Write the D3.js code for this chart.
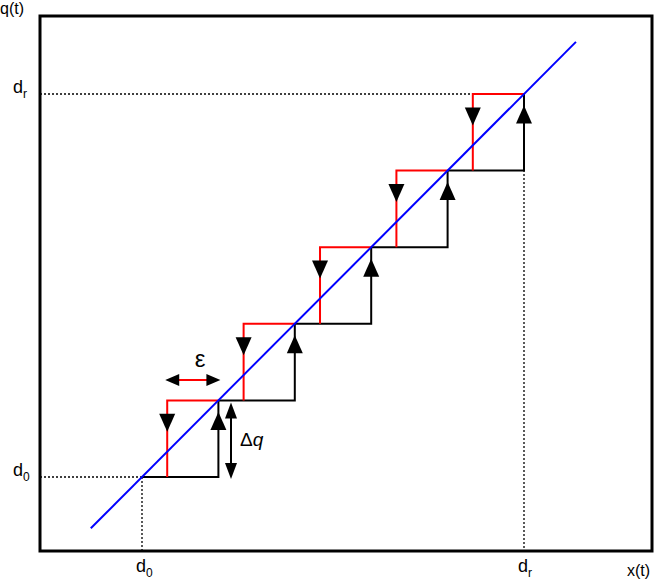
<!DOCTYPE html><html><head><meta charset="utf-8"><script src="https://cdn.jsdelivr.net/npm/d3@7"></script>
<style>body{margin:0;background:#fff}text{font-family:Arial,"Liberation Sans",sans-serif}</style></head><body>
<svg id="c" width="656" height="582"></svg>
<script>
const levels=[0,1,2,3,4,5];
const eps=0.33;
const lineRange=[-0.67,5.68];
const tickLabels=[{v:0,t:"d",s:"0"},{v:5,t:"d",s:"r"}];
const svg=d3.select("#c");
const x=d3.scaleLinear().domain([0,5]).range([142,524]);
const y=d3.scaleLinear().domain([0,5]).range([477,94]);
tickLabels.forEach(d=>{
  svg.append("line").attr("x1",40).attr("x2",x(d.v)).attr("y1",y(d.v)).attr("y2",y(d.v)).attr("stroke","#000").attr("stroke-width",1.3).attr("stroke-dasharray","2,2");
  svg.append("line").attr("x1",x(d.v)).attr("x2",x(d.v)).attr("y1",y(d.v)).attr("y2",551).attr("stroke","#000").attr("stroke-width",1.3).attr("stroke-dasharray","2,2");
  const tl=svg.append("text").attr("x",13).attr("y",y(d.v)-1).attr("font-size",18).text(d.t);
  tl.append("tspan").attr("font-size",12).attr("dy",5).text(d.s);
  const bl=svg.append("text").attr("x",x(d.v)-6).attr("y",572).attr("font-size",18).text(d.t);
  bl.append("tspan").attr("font-size",12).attr("dy",5).text(d.s);
});
svg.append("rect").attr("x",40).attr("y",16).attr("width",612).attr("height",535).attr("fill","none").attr("stroke","#000").attr("stroke-width",3);
function tri(cx,tipY,dir){const h=18,w=8;const b=tipY+dir*h;
  svg.append("path").attr("d",`M${cx},${tipY}L${cx-w},${b}L${cx+w},${b}Z`).attr("fill","#000");}
levels.slice(0,5).forEach(k=>{
  svg.append("path").attr("d",`M${x(k)},${y(k)}H${x(k+1)}V${y(k+1)}`).attr("fill","none").attr("stroke","#000").attr("stroke-width",2);
  svg.append("path").attr("d",`M${x(k+eps)},${y(k)}V${y(k+1)}H${x(k+1)}`).attr("fill","none").attr("stroke","red").attr("stroke-width",2);
});
svg.append("line").attr("x1",x(lineRange[0])).attr("y1",y(lineRange[0])).attr("x2",x(lineRange[1])).attr("y2",y(lineRange[1])).attr("stroke","#0000ff").attr("stroke-width",2);
levels.slice(0,5).forEach(k=>{
  tri(x(k+1),y(k+0.85),1);
  tri(x(k+eps),y(k+0.59),-1);
});
svg.append("line").attr("x1",x(eps)+4).attr("x2",x(1)-4).attr("y1",380).attr("y2",380).attr("stroke","red").attr("stroke-width",2);
svg.append("path").attr("d",`M${x(eps)-2},380l14,-6v12Z M${x(1)+2},380l-14,-6v12Z`).attr("fill","#000");
svg.append("text").attr("x",200).attr("y",367).attr("text-anchor","middle").attr("font-family","Liberation Serif,serif").attr("font-size",24).text("ε");
svg.append("line").attr("x1",231).attr("x2",231).attr("y1",y(1)+10).attr("y2",y(0)-10).attr("stroke","#000").attr("stroke-width",2);
svg.append("path").attr("d",`M231,${y(1)+2}l-6,16h12Z M231,${y(0)+2}l-6,-16h12Z`).attr("fill","#000");
const dq=svg.append("text").attr("x",240).attr("y",446).attr("font-family","Liberation Serif,serif").attr("font-size",19).text("Δ");
dq.append("tspan").attr("font-style","italic").text("q");
svg.append("text").attr("x",0).attr("y",14).attr("font-size",16).text("q(t)");
svg.append("text").attr("x",627).attr("y",576).attr("font-size",16).text("x(t)");
</script></body></html>
